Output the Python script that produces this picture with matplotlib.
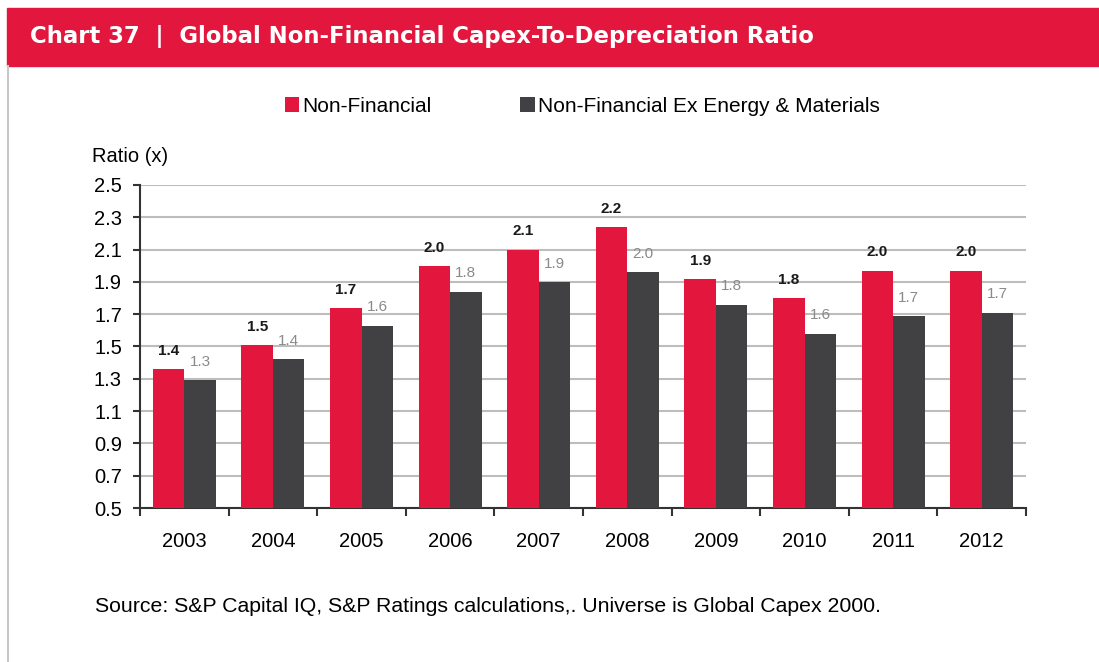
import numpy as np
import matplotlib
matplotlib.use('Agg')
from matplotlib import pyplot as plt
from matplotlib.patches import Rectangle
from matplotlib.lines import Line2D

years = ['2003', '2004', '2005', '2006', '2007', '2008', '2009', '2010', '2011', '2012']
non_fin = [1.36, 1.51, 1.74, 2.00, 2.10, 2.24, 1.92, 1.80, 1.97, 1.97]
non_fin_ex = [1.29, 1.42, 1.63, 1.84, 1.90, 1.96, 1.76, 1.58, 1.69, 1.71]
yticks = [0.5, 0.7, 0.9, 1.1, 1.3, 1.5, 1.7, 1.9, 2.1, 2.3, 2.5]

red = '#e3173e'
dark = '#414143'
font = ['Liberation Sans', 'DejaVu Sans']

fig = plt.figure(figsize=(10.99, 6.62), dpi=100)

# red header band and left frame line
fig.patches.append(Rectangle((7/1099, 1 - 66/662), 1 - 7/1099, 58/662,
                             transform=fig.transFigure, color=red, zorder=0))
fig.lines.append(Line2D([7.5/1099, 7.5/1099], [0, 1 - 66/662],
                        transform=fig.transFigure, color='#c8c8c8', lw=1.5))
fig.text(30/1099, 1 - 37/662,
         'Chart 37  |  Global Non-Financial Capex-To-Depreciation Ratio',
         color='white', fontsize=16.4, fontweight='bold', va='center',
         family=['DejaVu Sans'])

ax = fig.add_axes([140/1099, 154/662, 886/1099, 323/662])
x = np.arange(len(years))
w = 0.355
b1 = ax.bar(x - w/2, np.array(non_fin) - 0.5, w, bottom=0.5, color=red,
            label='Non-Financial', zorder=3)
b2 = ax.bar(x + w/2, np.array(non_fin_ex) - 0.5, w, bottom=0.5, color=dark,
            label='Non-Financial Ex Energy & Materials', zorder=3)

for xi, v in zip(x, non_fin):
    ax.annotate(f'{v:.1f}', (xi - w/2, v), xytext=(0, 8), textcoords='offset points',
                ha='center', va='bottom', fontsize=11, fontweight='bold',
                color='#1a1a1a', family=font)
for xi, v in zip(x, non_fin_ex):
    ax.annotate(f'{v:.1f}', (xi + w/2, v), xytext=(0, 8), textcoords='offset points',
                ha='center', va='bottom', fontsize=11, color='#8a8a8a', family=font)

ax.set_ylim(0.5, 2.5)
ax.set_xlim(-0.5, len(years) - 0.5)
ax.set_yticks(yticks)
ax.set_yticklabels([f'{t:.1f}' for t in yticks], family=font, fontsize=14.5)
ax.set_xticks(x)
ax.set_xticklabels(years, family=font, fontsize=14.5)
ax.set_xticks(np.arange(len(years) + 1) - 0.5, minor=True)
ax.tick_params(axis='x', which='major', length=0, pad=17)
ax.tick_params(axis='x', which='minor', length=6, width=1.5, color='#333333')
ax.tick_params(axis='y', length=5, width=1.5, color='#333333', pad=8)
ax.yaxis.grid(True, color='#bdbdbd', lw=1.5, zorder=0)
ax.set_axisbelow(True)
for s in ['top', 'right']:
    ax.spines[s].set_visible(False)
for s in ['left', 'bottom']:
    ax.spines[s].set_color('#333333')
    ax.spines[s].set_linewidth(1.5)

fig.text(92/1099, 1 - 157/662, 'Ratio (x)', fontsize=14.5, va='center', family=font)

leg = fig.legend(handles=[b1, b2], loc='center left',
                 bbox_to_anchor=(266/1099, 1 - 106/662), ncol=2, frameon=False,
                 prop={'family': font, 'size': 15}, handlelength=0.7,
                 handleheight=0.7, handletextpad=0.15, columnspacing=4.25)

fig.text(95/1099, 1 - 607/662,
         'Source: S&P Capital IQ, S&P Ratings calculations,. Universe is Global Capex 2000.',
         fontsize=15.3, va='center', family=font)

fig.savefig('out.png', dpi=100)
